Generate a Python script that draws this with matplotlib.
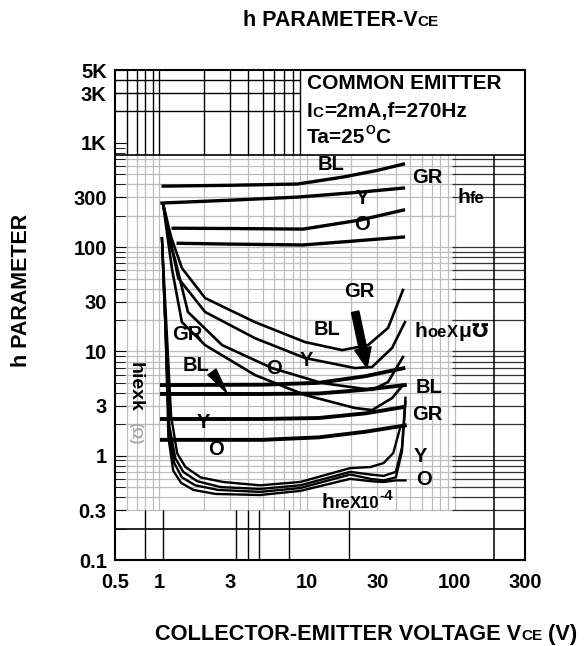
import numpy as np
import matplotlib
matplotlib.use("Agg")
import matplotlib.pyplot as plt
from matplotlib.ticker import LogLocator, NullLocator, NullFormatter
from matplotlib.transforms import IdentityTransform

plt.rcParams['font.family'] = ['Liberation Sans', 'DejaVu Sans']
plt.rcParams['font.weight'] = 'bold'

# ---- data (VCE in V) ----
# hfe
hfe_bl_x = [1.06, 3.0, 8.6, 17.5, 30, 45]
hfe_bl_y = [385, 392, 403, 470, 545, 626]
hfe_gr_x = [1.04, 3.0, 8.6, 22.9, 45]
hfe_gr_y = [265, 282, 302, 337, 369]
hfe_y_x = [1.24, 3.0, 9.4, 22.9, 45]
hfe_y_y = [152, 151, 149, 182, 227]
hfe_o_x = [1.34, 3.0, 9.4, 20, 45]
hfe_o_y = [109, 107, 105, 114, 125]

# hoe x micro-mho
hoe_gr_x = [1.06, 1.2, 1.42, 2.04, 4.44, 9.7, 17.3, 25.9, 35.4, 44.7]
hoe_gr_y = [259, 125, 63, 32.5, 19.1, 12.3, 10.3, 11.5, 16.8, 38.8]
hoe_bl_x = [1.06, 1.18, 1.34, 2.04, 4.44, 9.7, 21.1, 27.6, 37.7, 46.1]
hoe_bl_y = [259, 120, 50.6, 23.9, 13.4, 8.65, 6.93, 7.09, 10.8, 19.1]
hoe_y_x = [1.06, 1.16, 1.28, 1.56, 2.66, 5.79, 12.6, 27.6, 35.4, 44.7]
hoe_y_y = [259, 120, 75.2, 23.9, 11.5, 6.93, 4.98, 4.27, 5.09, 8.84]
hoe_o_x = [1.06, 1.14, 1.22, 1.42, 2.04, 4.44, 9.7, 21.1, 27.6, 37.7, 44.7]
hoe_o_y = [259, 120, 60.3, 19.1, 11.5, 5.94, 3.82, 2.87, 2.74, 3.57, 4.76]

# hie x k-ohm
hie_gr_x = [1.04, 5, 12, 25, 45]
hie_gr_y = [4.76, 4.8, 5.0, 5.8, 6.9]
hie_bl_x = [1.04, 5, 12, 25, 46]
hie_bl_y = [3.91, 3.91, 3.95, 4.3, 4.76]
hie_y_x = [1.04, 5, 12, 25, 45]
hie_y_y = [2.25, 2.25, 2.3, 2.55, 2.93]
hie_o_x = [1.04, 5, 12, 25, 46]
hie_o_y = [1.42, 1.42, 1.5, 1.7, 1.95]

# hre x 10^-4
hre_1_x = [1.04, 1.12, 1.2, 1.32, 1.5, 1.9, 2.7, 4.8, 9.0, 19.6, 27, 33, 38.4, 42.9]
hre_1_y = [122, 16, 2.4, 1.05, 0.78, 0.62, 0.56, 0.52, 0.56, 0.76, 0.78, 0.85, 1.06, 1.88]
hre_2_x = [1.04, 1.1, 1.17, 1.28, 1.45, 1.8, 2.6, 4.8, 9.0, 19.6, 27, 33, 40, 44, 46.5]
hre_2_y = [122, 16, 1.9, 0.95, 0.70, 0.57, 0.50, 0.48, 0.52, 0.70, 0.66, 0.64, 0.70, 1.2, 3.6]
hre_3_x = [1.04, 1.1, 1.16, 1.26, 1.42, 1.75, 2.5, 4.8, 9.0, 19.6, 27, 33, 40, 44, 46.5]
hre_3_y = [122, 16, 1.7, 0.85, 0.62, 0.52, 0.47, 0.45, 0.49, 0.66, 0.60, 0.58, 0.62, 1.1, 3.3]
hre_4_x = [1.04, 1.1, 1.15, 1.24, 1.4, 1.7, 2.4, 4.8, 9.0, 19.6, 27, 33, 40, 46.5]
hre_4_y = [122, 16, 1.5, 0.72, 0.55, 0.47, 0.43, 0.42, 0.46, 0.60, 0.57, 0.56, 0.58, 0.58]

x_ticks = [0.5, 1, 3, 10, 30, 100, 300]
x_labels = ["0.5", "1", "3", "10", "30", "100", "300"]
y_ticks = [0.1, 0.3, 1, 3, 10, 30, 100, 300, 1000, 3000, 5000]
y_labels = ["0.1", "0.3", "1", "3", "10", "30", "100", "300", "1K", "3K", "5K"]

fig = plt.figure(figsize=(5.85, 6.46), dpi=100)
ax = fig.add_axes([115/585, 86/646, 410/585, 490/646])
ax.set_xscale('log')
ax.set_yscale('log')
ax.set_xlim(0.5, 300)
ax.set_ylim(0.1, 5000)

# ---- grid, drawn like the printed chart ----
minor = [d * k for d in [0.1, 1, 10, 100, 1000] for k in range(1, 10)]
gx = [v for v in minor if 0.5 < v <= 100]
gy = [v for v in minor if 0.3 <= v <= 700]
gy_right = [v for v in gy if v != 200]
ax.vlines(gx, 0.3, 760, colors='#bdbdbd', lw=0.9, zorder=1)
ax.hlines(gy, 0.5, 100, colors='#bdbdbd', lw=0.9, zorder=1)
ax.hlines(gy_right, 96, 300, colors='#333333', lw=0.9, zorder=1)
ax.vlines([185], 0.1, 760, colors='k', lw=1.1, zorder=1)
ax.hlines([760, 0.2], 0.5, 300, colors='k', lw=1.2, zorder=1)
ax.vlines([0.6, 0.7, 0.8, 0.9, 1, 2, 3, 4, 5, 6, 7, 8, 9], 760, 5000, colors='k', lw=1.0, zorder=1)
ax.hlines([2000, 3000, 4000], 0.5, 9, colors='k', lw=1.0, zorder=1)
ax.vlines([0.8, 1.05, 3.3, 4, 4.7, 7.6, 19.3], 0.1, 0.3, colors='k', lw=1.0, zorder=1)

# ---- curves ----
for xs, ys in [(hfe_bl_x, hfe_bl_y), (hfe_gr_x, hfe_gr_y), (hfe_y_x, hfe_y_y), (hfe_o_x, hfe_o_y)]:
    ax.plot(xs, ys, color='k', lw=2.4, zorder=3)
for xs, ys in [(hoe_gr_x, hoe_gr_y), (hoe_bl_x, hoe_bl_y), (hoe_y_x, hoe_y_y), (hoe_o_x, hoe_o_y)]:
    ax.plot(xs, ys, color='k', lw=1.9, zorder=3)
for xs, ys in [(hie_gr_x, hie_gr_y), (hie_bl_x, hie_bl_y), (hie_y_x, hie_y_y), (hie_o_x, hie_o_y)]:
    ax.plot(xs, ys, color='k', lw=2.8, zorder=3)
for xs, ys in [(hre_1_x, hre_1_y), (hre_2_x, hre_2_y), (hre_3_x, hre_3_y), (hre_4_x, hre_4_y)]:
    ax.plot(xs, ys, color='k', lw=1.7, zorder=3)

# ---- axes styling ----
ax.set_xticks(x_ticks)
ax.set_xticklabels(x_labels)
ax.xaxis.set_minor_locator(NullLocator())
ax.set_yticks(y_ticks)
ax.set_yticklabels(y_labels)
ax.yaxis.set_minor_locator(LogLocator(base=10, subs=np.arange(2, 10)))
ax.yaxis.set_minor_formatter(NullFormatter())
ax.tick_params(axis='x', length=0, pad=9, labelsize=14.5)
ax.tick_params(axis='y', which='major', direction='in', length=8, pad=6, labelsize=14.5)
ax.tick_params(axis='y', which='minor', direction='in', length=7)
for s in ax.spines.values():
    s.set_linewidth(1.5)

renderer = fig.canvas.get_renderer()
px = fig.dpi / 72.0


def rich_text(x, y, pieces, transform):
    # pieces share one baseline; y is the middle of the capitals of the first piece
    xd, yd = transform.transform((x, y))
    base = yd - 0.36 * pieces[0][1] * px
    for s, size, rise in pieces:
        t = fig.text(xd, base + rise * px, s, transform=IdentityTransform(), fontsize=size,
                     fontweight='bold', ha='left', va='baseline', zorder=5)
        xd = t.get_window_extent(renderer).x1


# titles
rich_text(243/585, 1 - 18/646, [("h PARAMETER-V", 15.5, 0), ("CE", 11, 0)], fig.transFigure)
rich_text(155/585, 1 - 632/646, [("COLLECTOR-EMITTER VOLTAGE V", 15.7, 0), ("CE", 11, 0), (" (V)", 15.7, 0)],
          fig.transFigure)
fig.text(22/585, 1 - 290/646, "h PARAMETER", rotation=90, fontsize=15.5, fontweight='bold',
         ha='center', va='center')

# condition box
rich_text(10, 3915, [("COMMON EMITTER", 15, 0)], ax.transData)
rich_text(10, 2110, [("I", 15, 0), ("C", 11, 0), ("=2mA,f=270Hz", 15, 0)], ax.transData)
rich_text(10, 1188, [("Ta=25", 15, 0), ("O", 9, 6), ("C", 15, 0)], ax.transData)

# curve labels
curve_labels = [
    ("BL", 14.5, 626), ("GR", 65, 470), ("Y", 23.6, 296), ("O", 23.6, 166),
    ("GR", 22.5, 37.9), ("BL", 13.7, 16.4), ("Y", 9.85, 8.27), ("O", 5.97, 6.93),
    ("GR", 1.54, 14.4), ("BL", 1.77, 7.41), ("Y", 1.97, 2.10), ("O", 2.42, 1.16),
    ("BL", 67.1, 4.56), ("GR", 65, 2.51), ("Y", 58.3, 0.99), ("O", 62.0, 0.598),
]
for lab, lx, ly in curve_labels:
    ax.text(lx, ly, lab, fontsize=14.5, fontweight='bold', ha='center', va='center', zorder=5)

rich_text(104, 316, [("h", 15, 0), ("fe", 12, 0)], ax.transData)
rich_text(53.9, 16.4, [("h", 15, 0), ("oe", 12, 0), ("X", 12, 0), ("\u03bc", 15, 0), ("\u2127", 14, 0)],
          ax.transData)
rich_text(12.6, 0.368, [("h", 15, 0), ("re", 12, 0), ("X10", 12, 0), ("-4", 11, 6)], ax.transData)
ax.text(0.684, 4.56, "hiexk", rotation=270, fontsize=14, fontweight='bold', ha='center', va='center')
ax.text(0.684, 1.65, "(\u03a9)", rotation=270, fontsize=11, color='#aaaaaa', ha='center', va='center')

# pointers
ax.annotate('', xy=(25.5, 6.93), xytext=(21.2, 24),
            arrowprops=dict(arrowstyle='simple,head_length=1.2,head_width=1.0,tail_width=0.45',
                            color='k', shrinkA=0, shrinkB=0, mutation_scale=12), zorder=4)
ax.annotate('', xy=(2.87, 3.99), xytext=(2.27, 6.35),
            arrowprops=dict(arrowstyle='wedge,tail_width=0.6', color='k',
                            shrinkA=0, shrinkB=0, mutation_scale=12), zorder=4)

fig.savefig("out.png", dpi=100)
